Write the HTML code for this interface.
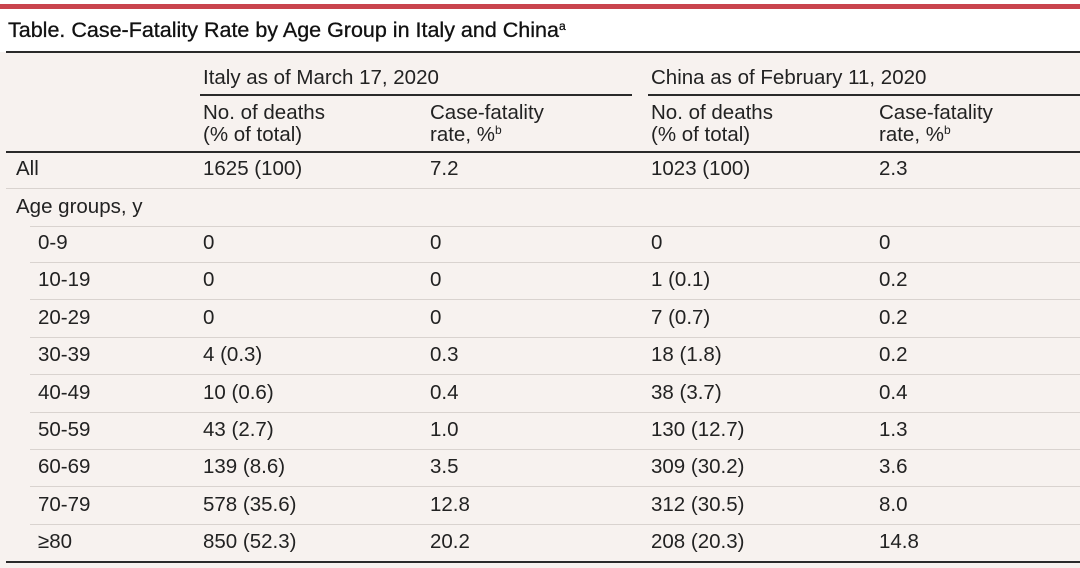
<!DOCTYPE html>
<html><head><meta charset="utf-8"><style>
body{margin:0;width:1080px;height:568px;background:#fff;position:relative;overflow:hidden;font-family:"Liberation Sans",sans-serif;color:#222;}
.a{position:absolute;white-space:nowrap;}
.t{font-size:20.5px;line-height:20px;}
.l{position:absolute;height:1px;background:#d9d3cf;}
.d{position:absolute;background:#2a2a2a;}
sup{font-size:12px;vertical-align:7px;line-height:0}
</style></head><body>
<div class="a" style="left:0;top:4px;width:1080px;height:5px;background:#c9444d"></div>
<div class="a" style="left:8px;top:18px;font-size:21.5px;color:#111;-webkit-text-stroke:0.3px #111">Table. Case-Fatality Rate by Age Group in Italy and China<sup>a</sup></div>
<div class="a" style="left:0;top:52px;width:1080px;height:516px;background:#f7f2ef"></div>
<div class="d" style="left:6px;top:51px;width:1074px;height:2px"></div>
<div class="a t" style="left:203px;top:68px">Italy as of March 17, 2020</div>
<div class="a t" style="left:651px;top:68px">China as of February 11, 2020</div>
<div class="d" style="left:200px;top:94px;width:432px;height:1.5px"></div>
<div class="d" style="left:648px;top:94px;width:432px;height:1.5px"></div>
<div class="a t" style="left:203px;top:102px;line-height:22px">No. of deaths<br>(% of total)</div>
<div class="a t" style="left:430px;top:102px;line-height:22px">Case-fatality<br>rate, %<sup>b</sup></div>
<div class="a t" style="left:651px;top:102px;line-height:22px">No. of deaths<br>(% of total)</div>
<div class="a t" style="left:879px;top:102px;line-height:22px">Case-fatality<br>rate, %<sup>b</sup></div>
<div class="d" style="left:6px;top:151px;width:1074px;height:2px"></div>
<div class="a t" style="left:16px;top:159px">All</div>
<div class="a t" style="left:203px;top:159px">1625 (100)</div>
<div class="a t" style="left:430px;top:159px">7.2</div>
<div class="a t" style="left:651px;top:159px">1023 (100)</div>
<div class="a t" style="left:879px;top:159px">2.3</div>
<div class="l" style="left:6px;top:188px;width:1074px"></div>
<div class="a t" style="left:16px;top:197px">Age groups, y</div>
<div class="l" style="left:30px;top:226px;width:1050px"></div>
<div id="rows"></div>
<div class="d" style="left:6px;top:561px;width:1074px;height:2px"></div>
<script>
var r=[["0-9","0","0","0","0"],["10-19","0","0","1 (0.1)","0.2"],["20-29","0","0","7 (0.7)","0.2"],["30-39","4 (0.3)","0.3","18 (1.8)","0.2"],["40-49","10 (0.6)","0.4","38 (3.7)","0.4"],["50-59","43 (2.7)","1.0","130 (12.7)","1.3"],["60-69","139 (8.6)","3.5","309 (30.2)","3.6"],["70-79","578 (35.6)","12.8","312 (30.5)","8.0"],["≥80","850 (52.3)","20.2","208 (20.3)","14.8"]];
var xs=[38,203,430,651,879],h="";
r.forEach(function(row,i){var y=233+i*37.4;
row.forEach(function(c,j){h+='<div class="a t" style="left:'+xs[j]+'px;top:'+y+'px">'+c+'</div>';});
if(i<8)h+='<div class="l" style="left:30px;top:'+(y+29)+'px;width:1050px"></div>';});
document.getElementById("rows").innerHTML=h;
</script>
</body></html>
